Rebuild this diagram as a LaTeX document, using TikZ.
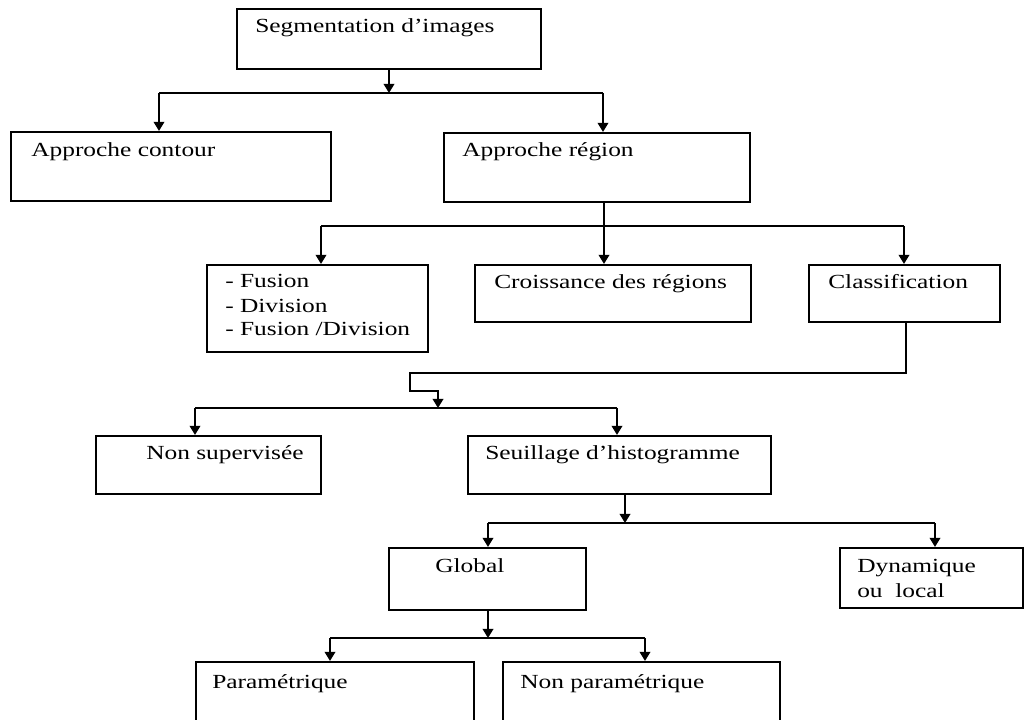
\documentclass[tikz,border=0pt]{standalone}
\usepackage{fontspec}
\setmainfont{Liberation Serif}
\usetikzlibrary{arrows.meta,fit}
% the labels are set in a widened serif face
\newcommand{\wtext}[1]{\scalebox{1.27}[1]{#1}}
\tikzset{
  box/.style={draw, line width=1.6pt, inner sep=0pt},
  wire/.style={line width=1.15pt},
  arr/.style={wire, -{Triangle[length=6.8pt,width=8pt]}},
  lbl/.style={anchor=base west, inner sep=0pt,
              font=\fontsize{15}{18}\selectfont},
}
\begin{document}
\begin{tikzpicture}[x=0.75pt,y=-0.75pt]
\useasboundingbox (0,0) rectangle (1026,720);
\clip (0,0) rectangle (1026,720);

% boxes
\node[box, fit={(237,9) (541,69)}]     (seg)      {};
\node[box, fit={(11,132) (331,201)}]   (contour)  {};
\node[box, fit={(444,133) (750,202)}]  (region)   {};
\node[box, fit={(207,265) (428,352)}]  (fusion)   {};
\node[box, fit={(475,265) (751,322)}]  (crois)    {};
\node[box, fit={(809,265) (1000,322)}] (classif)  {};
\node[box, fit={(96,436) (321,494)}]   (nonsup)   {};
\node[box, fit={(468,436) (771,494)}]  (seuil)    {};
\node[box, fit={(389,548) (586,610)}]  (global)   {};
\node[box, fit={(840,548) (1023,608)}] (dyn)      {};
\node[box, fit={(196,662) (474,740)}]  (param)    {};
\node[box, fit={(503,662) (780,740)}]  (nonparam) {};

% labels
\node[lbl] (seg-t)      at (255,33)  {\wtext{Segmentation d’images}};
\node[lbl] (contour-t)  at (31,157)  {\wtext{Approche contour}};
\node[lbl] (region-t)   at (462,157) {\wtext{Approche région}};
\node[lbl] (fusion-t1)  at (225,288) {\wtext{- Fusion}};
\node[lbl] (fusion-t2)  at (225,313) {\wtext{- Division}};
\node[lbl] (fusion-t3)  at (225,336) {\wtext{- Fusion /Division}};
\node[lbl] (crois-t)    at (494,289) {\wtext{Croissance des régions}};
\node[lbl] (classif-t)  at (828,289) {\wtext{Classification}};
\node[lbl] (nonsup-t)   at (146,460) {\wtext{Non supervisée}};
\node[lbl] (seuil-t)    at (485,460) {\wtext{Seuillage d’histogramme}};
\node[lbl] (global-t)   at (435,573) {\wtext{Global}};
\node[lbl] (dyn-t1)     at (857,573) {\wtext{Dynamique}};
\node[lbl] (dyn-t2)     at (857,598) {\wtext{ou\ \ local}};
\node[lbl] (param-t)    at (212,688) {\wtext{Paramétrique}};
\node[lbl] (nonparam-t) at (520,688) {\wtext{Non paramétrique}};

% Segmentation -> Approche contour / Approche region
\coordinate (a1) at (159,93);
\coordinate (a2) at (603,93);
\draw[arr] (seg.south) -- (seg.south |- a1);
\draw[wire] (a1) -- (a2);
\draw[arr] (a1) -- (a1 |- contour.north);
\draw[arr] (a2) -- (a2 |- region.north);

% Approche region -> three methods
\coordinate (b0) at (604,226);
\coordinate (b1) at (321,226);
\coordinate (b2) at (904,226);
\draw[arr] (b0 |- region.south) -- (b0 |- crois.north);
\draw[wire] (b1) -- (b2);
\draw[arr] (b1) -- (b1 |- fusion.north);
\draw[arr] (b2) -- (b2 |- classif.north);

% Classification -> Non supervisee / Seuillage
\coordinate (c1) at (906,373);
\coordinate (c2) at (410,373);
\coordinate (c3) at (410,391);
\coordinate (c4) at (438,391);
\coordinate (c5) at (438,408);
\draw[arr] (c1 |- classif.south) -- (c1) -- (c2) -- (c3) -- (c4) -- (c5);
\coordinate (d1) at (195,408);
\coordinate (d2) at (617,408);
\draw[wire] (d1) -- (d2);
\draw[arr] (d1) -- (d1 |- nonsup.north);
\draw[arr] (d2) -- (d2 |- seuil.north);

% Seuillage -> Global / Dynamique
\coordinate (e0) at (625,523);
\coordinate (e1) at (488,523);
\coordinate (e2) at (935,523);
\draw[arr] (e0 |- seuil.south) -- (e0);
\draw[wire] (e1) -- (e2);
\draw[arr] (e1) -- (e1 |- global.north);
\draw[arr] (e2) -- (e2 |- dyn.north);

% Global -> Parametrique / Non parametrique
\coordinate (f0) at (488,638);
\coordinate (f1) at (330,638);
\coordinate (f2) at (645,638);
\draw[arr] (f0 |- global.south) -- (f0);
\draw[wire] (f1) -- (f2);
\draw[arr] (f1) -- (f1 |- param.north);
\draw[arr] (f2) -- (f2 |- nonparam.north);
\end{tikzpicture}
\end{document}
